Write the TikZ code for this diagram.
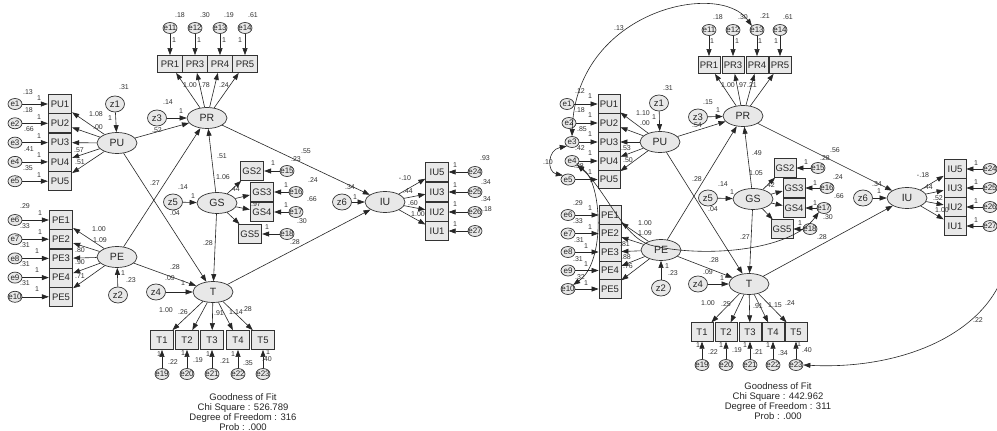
\documentclass[tikz,border=0pt]{standalone}
\usepackage{fontspec}
\setmainfont{Liberation Sans}
\usetikzlibrary{shapes.geometric,arrows.meta}

\newcounter{vcount}
% numeric estimate placed at an absolute position
\newcommand\vl[3]{\stepcounter{vcount}\node[val] (v\thevcount) at (#1,#2) {#3};}
% zero-width text so that every ellipse keeps its own size
\newcommand\ct[1]{\makebox[0pt]{#1}}

\tikzset{
  base/.style={draw=black!80, line width=0.8pt, fill=black!9, inner sep=0pt, text=black!85},
  ind/.style={base, rectangle, minimum width=23.5pt, minimum height=19pt, font=\fontsize{9.5}{10}\selectfont},
  indr/.style={ind, minimum width=22pt, minimum height=18.5pt},
  lat/.style={base, ellipse, line width=0.7pt, minimum width=40pt, minimum height=21pt, font=\fontsize{10.5}{11}\selectfont},
  dst/.style={base, ellipse, line width=0.7pt, minimum width=19pt, minimum height=16pt, font=\fontsize{9.5}{10}\selectfont},
  err/.style={base, ellipse, line width=0.7pt, minimum width=14pt, minimum height=11pt, font=\fontsize{8}{8}\selectfont},
  val/.style={inner sep=0pt, font=\fontsize{7}{7}\selectfont, text=black!80},
  gof/.style={inner sep=0pt, font=\fontsize{9.5}{10}\selectfont, align=center, text=black!85},
  arr/.style={-{Triangle[length=7pt,width=5pt]}, line width=0.6pt, draw=black!85},
  cov/.style={{Triangle[length=7pt,width=5pt]}-{Triangle[length=7pt,width=5pt]}, line width=0.6pt, draw=black!85},
}

\begin{document}
\begin{tikzpicture}[x=1pt,y=-1pt]
\fill[white] (0,0) rectangle (997,431);
\useasboundingbox (0,0) rectangle (997,431);

%% ================= first model =================
\node[lat] (LPU) at (117,143) {\ct{PU}};
\node[lat] (LPE) at (117,257) {\ct{PE}};
\node[lat] (LPR) at (207,118) {\ct{PR}};
\node[lat] (LGS) at (217,203) {\ct{GS}};
\node[lat] (LT)  at (213,292) {\ct{T}};
\node[lat] (LIU) at (385,202) {\ct{IU}};
\node[dst] (Lz1) at (115,104) {\ct{z1}};
\node[dst] (Lz2) at (118,295) {\ct{z2}};
\node[dst] (Lz3) at (157,118) {\ct{z3}};
\node[dst] (Lz4) at (156,292) {\ct{z4}};
\node[dst] (Lz5) at (173,202) {\ct{z5}};
\node[dst] (Lz6) at (342,202) {\ct{z6}};

\foreach \i/\y in {1/104,2/123.3,3/142.6,4/161.9,5/181.2}{
  \node[ind] (LPU\i) at (60,\y) {PU\i};
  \node[err] (Le\i) at (15,\y) {\ct{e\i}};
  \draw[arr] (Le\i) -- (LPU\i);
  \draw[arr] (LPU) -- (LPU\i);
}
\foreach \i/\k/\y in {1/6/220,2/7/239.2,3/8/258.4,4/9/277.6,5/10/296.8}{
  \node[ind] (LPE\i) at (61,\y) {PE\i};
  \node[err] (Le\k) at (15,\y) {\ct{e\k}};
  \draw[arr] (Le\k) -- (LPE\i);
  \draw[arr] (LPE) -- (LPE\i);
}
\foreach \i/\k/\x in {1/11/170,3/12/195,4/13/220,5/14/245}{
  \node[ind, minimum width=24.5pt, minimum height=17pt] (LPR\i) at (\x,64) {PR\i};
  \node[err] (Le\k) at (\x,28) {\ct{e\k}};
  \draw[arr] (Le\k) -- (LPR\i);
  \draw[arr] (LPR) -- (LPR\i);
}
\foreach \i/\k/\x/\y/\ex in {2/15/252/171/287,3/16/262/192/296,4/17/262/212/296,5/18/250/234/287}{
  \node[ind] (LGS\i) at (\x,\y) {GS\i};
  \node[err] (Le\k) at (\ex,\y) {\ct{e\k}};
  \draw[arr] (Le\k) -- (LGS\i);
  \draw[arr] (LGS) -- (LGS\i);
}
\foreach \i/\k/\x in {1/19/162,2/20/187,3/21/212,4/22/238,5/23/263}{
  \node[ind] (LT\i) at (\x,340) {T\i};
  \node[err] (Le\k) at (\x,374) {\ct{e\k}};
  \draw[arr] (Le\k) -- (LT\i);
  \draw[arr] (LT) -- (LT\i);
}
\foreach \i/\k/\y in {5/24/172,3/25/192,2/26/212,1/27/231}{
  \node[ind, minimum width=22.5pt] (LIU\i) at (437,\y) {IU\i};
  \node[err] (Le\k) at (475,\y) {\ct{e\k}};
  \draw[arr] (Le\k) -- (LIU\i);
  \draw[arr] (LIU) -- (LIU\i);
}

\draw[arr] (Lz1) -- (LPU);
\draw[arr] (Lz2) -- (LPE);
\draw[arr] (Lz3) -- (LPR);
\draw[arr] (Lz4) -- (LT);
\draw[arr] (Lz5) -- (LGS);
\draw[arr] (Lz6) -- (LIU);
\draw[arr] (LPU) -- (LPR);
\draw[arr] (LPU) -- (LT);
\draw[arr] (LPE) -- (LPR);
\draw[arr] (LPE) -- (LT);
\draw[arr] (LGS) -- (LPR);
\draw[arr] (LGS) -- (LT);
\draw[arr] (LPR) -- (LIU);
\draw[arr] (LT) -- (LIU);

% estimates, first model
\vl{28}{92}{.13} \vl{39}{98}{1}
\vl{28}{110}{.18} \vl{39}{117}{1}
\vl{29}{129}{.66} \vl{39}{136}{1}
\vl{29}{149}{.41} \vl{39}{155}{1}
\vl{28}{168}{.35} \vl{39}{175}{1}
\vl{124}{87}{.31} \vl{110}{118}{1}
\vl{96}{114}{1.08} \vl{98}{127}{.00} \vl{79}{150}{.57} \vl{80}{162}{.51}
\vl{180}{15}{.18} \vl{205}{15}{.30} \vl{229}{15}{.19} \vl{253}{15}{.61}
\vl{174}{40}{1} \vl{199}{40}{1} \vl{224}{40}{1} \vl{240}{40}{1}
\vl{190}{85}{1.00} \vl{205}{85}{.78} \vl{224}{85}{.24}
\vl{168}{102}{.14} \vl{181}{111}{1} \vl{157}{130}{.52}
\vl{25}{206}{.29} \vl{40}{213}{1}
\vl{25}{226}{.33} \vl{40}{232}{1}
\vl{25}{245}{.31} \vl{37}{251}{1}
\vl{25}{264}{.31} \vl{37}{270}{1}
\vl{25}{283}{.31} \vl{37}{289}{1}
\vl{99}{229}{1.00} \vl{100}{240}{1.09} \vl{80}{250}{.80} \vl{80}{262}{.90} \vl{80}{276}{.71}
\vl{123}{273}{1} \vl{131}{280}{.23}
\vl{155}{183}{.27} \vl{183}{187}{.14} \vl{193}{196}{1} \vl{175}{213}{.04}
\vl{222}{156}{.51} \vl{208}{243}{.28}
\vl{223}{177}{1.06} \vl{235}{189}{.44} \vl{256}{204}{.97}
\vl{273}{163}{1} \vl{286}{185}{1} \vl{286}{205}{1} \vl{267}{227}{1}
\vl{306}{151}{.55} \vl{296}{159}{.23} \vl{313}{180}{.24} \vl{312}{199}{.66}
\vl{302}{221}{.30} \vl{295}{242}{.28}
\vl{350}{187}{.34} \vl{355}{197}{1}
\vl{405}{178}{-.10} \vl{408}{191}{.44} \vl{413}{203}{.60} \vl{418}{214}{1.00}
\vl{455}{165}{1} \vl{455}{185}{1} \vl{455}{204}{1} \vl{455}{224}{1}
\vl{485}{158}{.93} \vl{486}{182}{.34} \vl{486}{199}{.34} \vl{487}{209}{.18}
\vl{175}{267}{.28} \vl{170}{278}{.09} \vl{183}{283}{1}
\vl{166}{310}{1.00} \vl{183}{312}{.26} \vl{219}{313}{.91} \vl{236}{312}{1.14} \vl{247}{309}{.28}
\vl{159}{354}{1} \vl{183}{353}{1} \vl{208}{354}{1} \vl{233}{354}{1} \vl{268}{352}{1}
\vl{173}{362}{.22} \vl{198}{360}{.19} \vl{225}{361}{.21} \vl{248}{363}{.35} \vl{267}{359}{.40}

\node[gof] (Lgof) at (243,412) {Goodness of Fit\\Chi Square : 526.789\\Degree of Freedom : 316\\Prob : .000};

%% ================= second model =================
\node[lat] (RPU) at (660,142) {\ct{PU}};
\node[lat] (RPE) at (661,250) {\ct{PE}};
\node[lat] (RPR) at (743,116) {\ct{PR}};
\node[lat] (RGS) at (753,199) {\ct{GS}};
\node[lat] (RT)  at (749,284) {\ct{T}};
\node[lat] (RIU) at (907,198) {\ct{IU}};
\node[dst] (Rz1) at (659,103) {\ct{z1}};
\node[dst] (Rz2) at (661,288) {\ct{z2}};
\node[dst] (Rz3) at (698,117) {\ct{z3}};
\node[dst] (Rz4) at (698,284) {\ct{z4}};
\node[dst] (Rz5) at (708,198) {\ct{z5}};
\node[dst] (Rz6) at (863,198) {\ct{z6}};

\foreach \i/\y/\ex in {1/104/567,2/123/569,3/142/572,4/161/572,5/179.5/568}{
  \node[indr] (RPU\i) at (609,\y) {PU\i};
  \node[err] (Re\i) at (\ex,\y) {\ct{e\i}};
  \draw[arr] (Re\i) -- (RPU\i);
  \draw[arr] (RPU) -- (RPU\i);
}
\foreach \i/\k/\y in {1/6/215,2/7/233.5,3/8/252,4/9/270.5,5/10/289}{
  \node[indr] (RPE\i) at (610,\y) {PE\i};
  \node[err] (Re\k) at (568,\y) {\ct{e\k}};
  \draw[arr] (Re\k) -- (RPE\i);
  \draw[arr] (RPE) -- (RPE\i);
}
\foreach \i/\k/\x in {1/11/709,3/12/733,4/13/757,5/14/780}{
  \node[indr, minimum height=17pt] (RPR\i) at (\x,65) {PR\i};
  \node[err] (Re\k) at (\x,30) {\ct{e\k}};
  \draw[arr] (Re\k) -- (RPR\i);
  \draw[arr] (RPR) -- (RPR\i);
}
\foreach \i/\k/\x/\y/\ex in {2/15/785/168/818,3/16/794/188/827,4/17/794/208/824,5/18/782/229/810}{
  \node[indr] (RGS\i) at (\x,\y) {GS\i};
  \node[err] (Re\k) at (\ex,\y) {\ct{e\k}};
  \draw[arr] (Re\k) -- (RGS\i);
  \draw[arr] (RGS) -- (RGS\i);
}
\foreach \i/\k/\x in {1/19/702,2/20/726,3/21/750,4/22/773,5/23/796}{
  \node[indr] (RT\i) at (\x,332) {T\i};
  \node[err] (Re\k) at (\x,365) {\ct{e\k}};
  \draw[arr] (Re\k) -- (RT\i);
  \draw[arr] (RT) -- (RT\i);
}
\foreach \i/\k/\y in {5/24/169,3/25/188,2/26/207,1/27/226}{
  \node[indr] (RIU\i) at (955,\y) {IU\i};
  \node[err] (Re\k) at (990,\y) {\ct{e\k}};
  \draw[arr] (Re\k) -- (RIU\i);
  \draw[arr] (RIU) -- (RIU\i);
}

\draw[arr] (Rz1) -- (RPU);
\draw[arr] (Rz2) -- (RPE);
\draw[arr] (Rz3) -- (RPR);
\draw[arr] (Rz4) -- (RT);
\draw[arr] (Rz5) -- (RGS);
\draw[arr] (Rz6) -- (RIU);
\draw[arr] (RPU) -- (RPR);
\draw[arr] (RPU) -- (RT);
\draw[arr] (RPE) -- (RPR);
\draw[arr] (RPE) -- (RT);
\draw[arr] (RGS) -- (RPR);
\draw[arr] (RGS) -- (RT);
\draw[arr] (RPR) -- (RIU);
\draw[arr] (RT) -- (RIU);

% error covariances
\draw[cov] (Re3.north) .. controls (576,10) and (720,-20) .. (Re13.north west);
\draw[cov] (Re3.south west) .. controls (547,150) and (547,172) .. (Re5.north west);
\draw[cov] (Re4.south east) .. controls (602,182) and (606,262) .. (Re10.north east);
\draw[cov] (Re4.south east) .. controls (606,190) and (622,236) .. (650,245) .. controls (700,258) and (790,252) .. (Re17.south west);
\draw[cov] (Re23.east) .. controls (900,370) and (985,335) .. (1005,270) .. controls (1015,240) and (1010,227) .. (Re27.east);

% estimates, second model
\vl{619}{28}{.13}
\vl{718}{17}{.18} \vl{743}{17}{.30} \vl{765}{16}{.21} \vl{788}{17}{.61}
\vl{712}{41}{1} \vl{737}{41}{1} \vl{760}{41}{1} \vl{776}{41}{1}
\vl{728}{85}{1.00} \vl{742}{85}{.97} \vl{752}{85}{.21}
\vl{708}{102}{.15} \vl{718}{110}{1} \vl{697}{125}{.54}
\vl{668}{88}{.31} \vl{654}{117}{1}
\vl{643}{113}{1.10} \vl{645}{123}{.00} \vl{626}{148}{.53} \vl{628}{160}{.50}
\vl{580}{91}{.12} \vl{590}{96}{1}
\vl{580}{110}{.18} \vl{590}{115}{1}
\vl{582}{129}{.85} \vl{590}{134}{1}
\vl{580}{148}{.42} \vl{590}{153}{1}
\vl{579}{166}{.38} \vl{590}{172}{1}
\vl{548}{162}{.10}
\vl{578}{203}{.29} \vl{590}{208}{1}
\vl{578}{221}{.33} \vl{590}{227}{1}
\vl{579}{240}{.31} \vl{586}{246}{1}
\vl{578}{259}{.31} \vl{586}{264}{1}
\vl{580}{277}{.32} \vl{586}{283}{1}
\vl{645}{223}{1.00} \vl{645}{233}{1.09} \vl{625}{244}{.81} \vl{626}{257}{.88} \vl{628}{266}{.76}
\vl{667}{266}{1} \vl{673}{273}{.23}
\vl{697}{179}{.28} \vl{723}{184}{.14} \vl{732}{192}{1} \vl{713}{209}{.04}
\vl{757}{153}{.49} \vl{745}{237}{.27}
\vl{756}{173}{1.05} \vl{770}{185}{.42}
\vl{806}{162}{1} \vl{815}{183}{1} \vl{815}{203}{1} \vl{800}{223}{1}
\vl{835}{150}{.56} \vl{825}{158}{.28} \vl{838}{177}{.24} \vl{839}{196}{.66}
\vl{828}{217}{.30} \vl{822}{237}{.28}
\vl{877}{184}{.34} \vl{879}{191}{1}
\vl{923}{175}{-.18} \vl{928}{187}{.44} \vl{938}{198}{.52} \vl{942}{210}{1.00}
\vl{976}{163}{1} \vl{976}{182}{1} \vl{976}{201}{1} \vl{976}{220}{1}
\vl{714}{260}{.28} \vl{708}{272}{.09} \vl{722}{278}{1}
\vl{708}{303}{1.00} \vl{726}{304}{.25} \vl{758}{306}{.91} \vl{775}{305}{1.15} \vl{790}{303}{.24}
\vl{698}{345}{1} \vl{721}{345}{1} \vl{745}{345}{1} \vl{768}{345}{1} \vl{799}{344}{1}
\vl{713}{352}{.22} \vl{737}{350}{.19} \vl{758}{352}{.21} \vl{783}{353}{.34} \vl{807}{350}{.40}
\vl{978}{320}{.22}

\node[gof] (Rgof) at (778,401.5) {Goodness of Fit\\Chi Square : 442.962\\Degree of Freedom : 311\\Prob : .000};
\end{tikzpicture}
\end{document}
